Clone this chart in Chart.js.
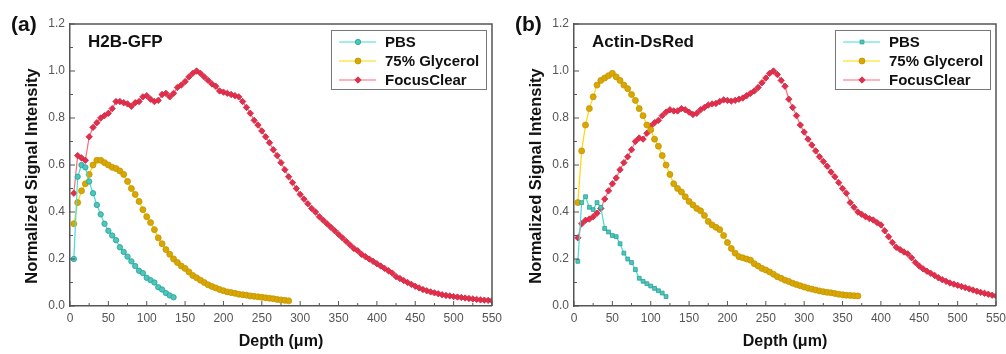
<!DOCTYPE html>
<html>
<head>
<meta charset="utf-8">
<script src="https://cdn.jsdelivr.net/npm/chart.js@4.4.0/dist/chart.umd.min.js"></script>
<style>
 html, body { margin: 0; padding: 0; background: #fff; overflow: hidden; }
 #wrap { position: relative; width: 1006px; height: 354px; overflow: hidden; }
 .panel { position: absolute; top: 0; height: 354px; }
</style>
</head>
<body>
<div id="wrap">
 <div class="panel" style="left:0;width:507px"><canvas id="chartA" width="507" height="354"></canvas></div>
 <div class="panel" style="left:504px;width:507px"><canvas id="chartB" width="507" height="354"></canvas></div>
</div>
<script>
// sampled depths (µm), one point every 5 µm
var depth = [
 5, 10, 15, 20, 25, 30, 35, 40, 45, 50,
 55, 60, 65, 70, 75, 80, 85, 90, 95, 100,
 105, 110, 115, 120, 125, 130, 135, 140, 145, 150,
 155, 160, 165, 170, 175, 180, 185, 190, 195, 200,
 205, 210, 215, 220, 225, 230, 235, 240, 245, 250,
 255, 260, 265, 270, 275, 280, 285, 290, 295, 300,
 305, 310, 315, 320, 325, 330, 335, 340, 345, 350,
 355, 360, 365, 370, 375, 380, 385, 390, 395, 400,
 405, 410, 415, 420, 425, 430, 435, 440, 445, 450,
 455, 460, 465, 470, 475, 480, 485, 490, 495, 500,
 505, 510, 515, 520, 525, 530, 535, 540, 545, 550
];

var seriesNames = ["PBS", "75% Glycerol", "FocusClear"];
var panelLabels = ["(a)", "(b)"];
var panelNames = ["H2B-GFP", "Actin-DsRed"];

// (a) H2B-GFP
var pbsA = [
 0.20, 0.55, 0.60, 0.59, 0.53, 0.48, 0.43, 0.39, 0.35, 0.32,
 0.30, 0.28, 0.25, 0.23, 0.21, 0.19, 0.17, 0.15, 0.14, 0.12,
 0.11, 0.10, 0.08, 0.07, 0.055, 0.045, 0.037
];
var glyA = [
 0.35, 0.44, 0.49, 0.52, 0.56, 0.60, 0.62, 0.62, 0.61, 0.60,
 0.59, 0.585, 0.575, 0.56, 0.53, 0.50, 0.475, 0.445, 0.41, 0.38,
 0.355, 0.325, 0.29, 0.265, 0.24, 0.22, 0.20, 0.185, 0.17, 0.16,
 0.145, 0.13, 0.12, 0.11, 0.10, 0.09, 0.083, 0.077, 0.07, 0.065,
 0.06, 0.057, 0.054, 0.05, 0.048, 0.046, 0.043, 0.041, 0.039, 0.037,
 0.035, 0.033, 0.031, 0.028, 0.026, 0.024, 0.022
];
var fcA = [
 0.48, 0.64, 0.63, 0.62, 0.72, 0.76, 0.78, 0.80, 0.81, 0.82,
 0.84, 0.87, 0.87, 0.865, 0.86, 0.85, 0.865, 0.87, 0.89, 0.895,
 0.88, 0.87, 0.875, 0.90, 0.905, 0.89, 0.905, 0.93, 0.94, 0.955,
 0.975, 0.99, 1.0, 0.99, 0.975, 0.96, 0.945, 0.935, 0.915, 0.91,
 0.905, 0.90, 0.895, 0.89, 0.87, 0.845, 0.82, 0.79, 0.77, 0.745,
 0.72, 0.695, 0.665, 0.64, 0.61, 0.58, 0.55, 0.525, 0.50, 0.475,
 0.455, 0.435, 0.415, 0.40, 0.38, 0.365, 0.35, 0.335, 0.32, 0.305,
 0.29, 0.275, 0.26, 0.245, 0.235, 0.22, 0.21, 0.20, 0.19, 0.18,
 0.17, 0.16, 0.15, 0.14, 0.125, 0.117, 0.108, 0.10, 0.092, 0.084,
 0.077, 0.07, 0.065, 0.06, 0.056, 0.052, 0.048, 0.045, 0.043, 0.04,
 0.038, 0.036, 0.034, 0.032, 0.03, 0.028, 0.026, 0.025, 0.024, 0.023
];

// (b) Actin-DsRed
var pbsB = [
 0.19, 0.44, 0.465, 0.42, 0.41, 0.44, 0.42, 0.33, 0.315, 0.30,
 0.295, 0.265, 0.225, 0.20, 0.185, 0.155, 0.118, 0.105, 0.095, 0.085,
 0.075, 0.065, 0.055, 0.04
];
var glyB = [
 0.44, 0.66, 0.77, 0.84, 0.89, 0.94, 0.96, 0.97, 0.98, 0.99,
 0.975, 0.96, 0.94, 0.925, 0.90, 0.875, 0.84, 0.81, 0.77, 0.75,
 0.71, 0.68, 0.64, 0.60, 0.56, 0.52, 0.50, 0.485, 0.465, 0.445,
 0.43, 0.415, 0.405, 0.385, 0.36, 0.345, 0.335, 0.325, 0.30, 0.27,
 0.245, 0.225, 0.21, 0.205, 0.20, 0.195, 0.18, 0.17, 0.16, 0.153,
 0.145, 0.135, 0.125, 0.118, 0.11, 0.104, 0.097, 0.091, 0.086, 0.081,
 0.076, 0.072, 0.068, 0.064, 0.061, 0.058, 0.056, 0.053, 0.05, 0.048,
 0.046, 0.045, 0.044, 0.043
];
var fcB = [
 0.29, 0.35, 0.365, 0.37, 0.38, 0.395, 0.415, 0.455, 0.49, 0.52,
 0.545, 0.58, 0.61, 0.635, 0.665, 0.70, 0.715, 0.71, 0.735, 0.765,
 0.78, 0.79, 0.81, 0.825, 0.835, 0.83, 0.83, 0.84, 0.835, 0.825,
 0.815, 0.82, 0.835, 0.845, 0.855, 0.86, 0.862, 0.87, 0.877, 0.875,
 0.872, 0.875, 0.88, 0.885, 0.895, 0.905, 0.915, 0.93, 0.95, 0.97,
 0.99, 1.0, 0.985, 0.96, 0.935, 0.88, 0.845, 0.81, 0.77, 0.74,
 0.71, 0.685, 0.66, 0.635, 0.615, 0.595, 0.57, 0.55, 0.525, 0.50,
 0.48, 0.44, 0.42, 0.40, 0.39, 0.38, 0.372, 0.366, 0.355, 0.345,
 0.32, 0.295, 0.27, 0.25, 0.24, 0.23, 0.222, 0.205, 0.185, 0.17,
 0.158, 0.148, 0.139, 0.13, 0.12, 0.112, 0.105, 0.098, 0.093, 0.088,
 0.083, 0.078, 0.073, 0.068, 0.063, 0.058, 0.054, 0.05, 0.046, 0.043
];

var FONT = "'Liberation Sans', Arial, sans-serif";

function toPoints(values) {
 return values.map(function (v, i) {
  return { x: depth[i], y: v };
 });
}

function makeSets(pbs, gly, fc, pbsShape) {
 return [
  {
   label: seriesNames[0], data: toPoints(pbs), showLine: true,
   borderColor: "#45dcd4", borderWidth: 1.2,
   pointStyle: pbsShape, pointRadius: 2.7,
   pointBackgroundColor: "#4cc7bd", pointBorderColor: "#2a9f96", pointBorderWidth: 0.8,
  },
  {
   label: seriesNames[1], data: toPoints(gly), showLine: true,
   borderColor: "#ffd900", borderWidth: 1.2,
   pointStyle: "circle", pointRadius: 3,
   pointBackgroundColor: "#d8a800", pointBorderColor: "#c49300", pointBorderWidth: 0.8,
  },
  {
   label: seriesNames[2], data: toPoints(fc), showLine: true,
   borderColor: "#ff6a7c", borderWidth: 1.2,
   pointStyle: "rectRot", pointRadius: 3.2,
   pointBackgroundColor: "#e2304c", pointBorderColor: "#cf2340", pointBorderWidth: 0.8,
  },
 ];
}

// inward ticks + top/right frame
var framePlugin = {
 id: "frame",
 afterDatasetsDraw: function (chart) {
  var ctx = chart.ctx, a = chart.chartArea;
  var xs = chart.scales.x, ys = chart.scales.y;
  ctx.save();
  ctx.strokeStyle = "#555";
  ctx.lineWidth = 1.5;
  ctx.beginPath();
  ctx.moveTo(a.left, a.top);
  ctx.lineTo(a.right, a.top);
  ctx.lineTo(a.right, a.bottom);
  ctx.stroke();
  ctx.lineWidth = 1;
  ctx.beginPath();
  xs.ticks.forEach(function (t, i) {
   var px = xs.getPixelForValue(t.value);
   ctx.moveTo(px, a.bottom);
   ctx.lineTo(px, a.bottom - 5);
   if (i < xs.ticks.length - 1) {
    var mx = xs.getPixelForValue((t.value + xs.ticks[i + 1].value) / 2);
    ctx.moveTo(mx, a.bottom);
    ctx.lineTo(mx, a.bottom - 3);
   }
  });
  ys.ticks.forEach(function (t, i) {
   var py = ys.getPixelForValue(t.value);
   ctx.moveTo(a.left, py);
   ctx.lineTo(a.left + 5, py);
   if (i < ys.ticks.length - 1) {
    var my = ys.getPixelForValue((t.value + ys.ticks[i + 1].value) / 2);
    ctx.moveTo(a.left, my);
    ctx.lineTo(a.left + 3, my);
   }
  });
  ctx.stroke();
  ctx.restore();
 },
};

// panel letter, sample name and y title
var panelTextPlugin = {
 id: "panelText",
 afterDraw: function (chart, args, opts) {
  var ctx = chart.ctx;
  ctx.save();
  ctx.fillStyle = "#111";
  ctx.textBaseline = "middle";
  ctx.textAlign = "left";
  ctx.font = "bold 21px " + FONT;
  ctx.fillText(opts.letter, 11, 25);
  ctx.font = "bold 17px " + FONT;
  ctx.fillText(opts.name, 88, 42);
  ctx.translate(32, 176);
  ctx.rotate(-Math.PI / 2);
  ctx.textAlign = "center";
  ctx.font = "bold 16.5px " + FONT;
  ctx.fillText("Normalized Signal Intensity", 0, 0);
  ctx.restore();
 },
};

// boxed legend inside the plot
var boxLegendPlugin = {
 id: "boxLegend",
 afterDraw: function (chart) {
  var ctx = chart.ctx;
  var bx = 331, by = 30, bw = 155, bh = 59;
  ctx.save();
  ctx.fillStyle = "#fff";
  ctx.fillRect(bx, by, bw, bh);
  ctx.strokeStyle = "#777";
  ctx.lineWidth = 1;
  ctx.strokeRect(bx + 0.5, by + 0.5, bw, bh);
  chart.data.datasets.forEach(function (ds, i) {
   var cy = by + 12 + i * 19;
   ctx.strokeStyle = ds.borderColor;
   ctx.lineWidth = 1.2;
   ctx.beginPath();
   ctx.moveTo(bx + 8, cy);
   ctx.lineTo(bx + 45, cy);
   ctx.stroke();
   ctx.fillStyle = ds.pointBackgroundColor;
   ctx.strokeStyle = ds.pointBorderColor;
   ctx.lineWidth = 0.8;
   Chart.helpers.drawPoint(ctx, { pointStyle: ds.pointStyle, radius: ds.pointRadius, borderWidth: 0.8, rotation: 0 }, bx + 27, cy);
   ctx.fillStyle = "#111";
   ctx.font = "bold 15px " + FONT;
   ctx.textBaseline = "middle";
   ctx.textAlign = "left";
   ctx.fillText(ds.label, bx + 54, cy + 1);
  });
  ctx.restore();
 },
};

function makeChart(id, idx, sets) {
 return new Chart(document.getElementById(id), {
  type: "scatter",
  data: { datasets: sets },
  options: {
   responsive: false,
   animation: false,
   layout: { padding: { top: 24, right: 0, left: 0, bottom: 0 } },
   plugins: {
    legend: { display: false },
    tooltip: { enabled: false },
    panelText: { letter: panelLabels[idx], name: panelNames[idx] },
   },
   scales: {
    x: {
     type: "linear",
     min: 0,
     max: 550,
     ticks: {
      stepSize: 50,
      color: "#555",
      padding: 5,
      maxRotation: 0,
      font: { family: FONT, size: 12 },
     },
     grid: { drawOnChartArea: false, drawTicks: false },
     border: { color: "#555", width: 1.5 },
     title: {
      display: true,
      text: "Depth (μm)",
      color: "#111",
      font: { family: FONT, size: 16, weight: "bold" },
      padding: { top: 0, bottom: 3 },
     },
     afterFit: function (s) { s.height = 48; },
    },
    y: {
     min: 0,
     max: 1.2,
     ticks: {
      stepSize: 0.2,
      color: "#555",
      padding: 5,
      font: { family: FONT, size: 12 },
      callback: function (v) { return v.toFixed(1); },
     },
     grid: { drawOnChartArea: false, drawTicks: false },
     border: { color: "#555", width: 1.5 },
     afterFit: function (s) { s.width = 70; },
    },
   },
  },
  plugins: [framePlugin, panelTextPlugin, boxLegendPlugin],
 });
}

makeChart("chartA", 0, makeSets(pbsA, glyA, fcA, "circle"));
makeChart("chartB", 1, makeSets(pbsB, glyB, fcB, "rect"));
</script>
</body>
</html>
